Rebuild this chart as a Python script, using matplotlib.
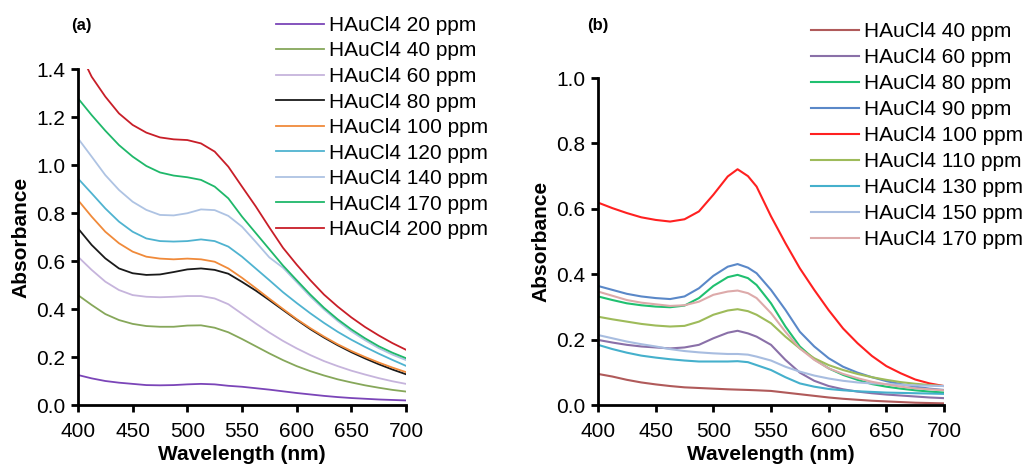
import numpy as np
import matplotlib
matplotlib.use("Agg")
import matplotlib.pyplot as plt

plt.rcParams['font.family'] = ['Liberation Sans', 'DejaVu Sans']

# ---------------- panel (a) data ----------------
wl_a = [400, 412.5, 425, 437.5, 450, 462.5, 475, 487.5, 500, 512.5, 525, 537.5, 550,
        562.5, 575, 587.5, 600, 612.5, 625, 637.5, 650, 662.5, 675, 687.5, 700]

labels_a = ["HAuCl4 20 ppm", "HAuCl4 40 ppm", "HAuCl4 60 ppm", "HAuCl4 80 ppm",
            "HAuCl4 100 ppm", "HAuCl4 120 ppm", "HAuCl4 140 ppm",
            "HAuCl4 170 ppm", "HAuCl4 200 ppm"]

a_20 = [0.125, 0.111, 0.100, 0.093, 0.088, 0.083, 0.082, 0.083, 0.086, 0.088, 0.086, 0.080, 0.076,
        0.070, 0.064, 0.057, 0.050, 0.044, 0.038, 0.033, 0.029, 0.026, 0.023, 0.021, 0.019]
a_40 = [0.458, 0.417, 0.379, 0.354, 0.338, 0.329, 0.326, 0.326, 0.331, 0.332, 0.322, 0.303, 0.275,
        0.245, 0.215, 0.187, 0.162, 0.141, 0.123, 0.107, 0.094, 0.082, 0.072, 0.063, 0.056]
a_60 = [0.618, 0.563, 0.514, 0.479, 0.458, 0.451, 0.449, 0.451, 0.454, 0.454, 0.444, 0.420, 0.380,
        0.340, 0.302, 0.267, 0.236, 0.208, 0.183, 0.162, 0.143, 0.127, 0.112, 0.099, 0.088]
a_80 = [0.736, 0.667, 0.611, 0.569, 0.549, 0.542, 0.544, 0.554, 0.565, 0.569, 0.563, 0.547, 0.513,
        0.477, 0.437, 0.396, 0.355, 0.316, 0.281, 0.249, 0.220, 0.194, 0.170, 0.148, 0.128]
a_100 = [0.854, 0.785, 0.722, 0.674, 0.639, 0.618, 0.610, 0.607, 0.610, 0.607, 0.597, 0.569, 0.530,
         0.487, 0.443, 0.400, 0.358, 0.320, 0.285, 0.253, 0.225, 0.200, 0.177, 0.156, 0.137]
a_120 = [0.944, 0.882, 0.819, 0.764, 0.722, 0.694, 0.683, 0.681, 0.683, 0.690, 0.683, 0.660, 0.618,
         0.569, 0.520, 0.470, 0.425, 0.382, 0.342, 0.305, 0.272, 0.242, 0.214, 0.188, 0.163]
a_140 = [1.111, 1.035, 0.958, 0.896, 0.847, 0.813, 0.792, 0.790, 0.799, 0.815, 0.812, 0.788, 0.743,
         0.680, 0.615, 0.572, 0.512, 0.452, 0.398, 0.350, 0.307, 0.270, 0.237, 0.210, 0.187]
a_170 = [1.278, 1.208, 1.143, 1.083, 1.035, 0.996, 0.969, 0.956, 0.949, 0.938, 0.910, 0.861, 0.785,
         0.717, 0.649, 0.581, 0.520, 0.460, 0.405, 0.357, 0.315, 0.278, 0.245, 0.218, 0.195]
# the 200 ppm curve starts a bit after 400 nm
wl_a200 = [408] + wl_a[1:]
a_200 = [1.410, 1.368, 1.285, 1.215, 1.167, 1.135, 1.115, 1.107, 1.104, 1.090, 1.056, 0.993, 0.910,
         0.828, 0.740, 0.655, 0.585, 0.520, 0.460, 0.410, 0.365, 0.325, 0.290, 0.258, 0.230]

colors_a = ["#7b45b8", "#86a75a", "#c6b4dc", "#1a1a1a", "#f08a3a",
            "#4fb3d0", "#aec3e3", "#1fb86a", "#c81e28"]

# ---------------- panel (b) data ----------------
wl_b = [400, 412.5, 425, 437.5, 450, 462.5, 475, 487.5, 500, 512.5, 521, 530, 537.5, 550,
        562.5, 575, 587.5, 600, 612.5, 625, 637.5, 650, 662.5, 675, 687.5, 700]

labels_b = ["HAuCl4 40 ppm", "HAuCl4 60 ppm", "HAuCl4 80 ppm", "HAuCl4 90 ppm",
            "HAuCl4 100 ppm", "HAuCl4 110 ppm", "HAuCl4 130 ppm",
            "HAuCl4 150 ppm", "HAuCl4 170 ppm"]

b_40 = [0.095, 0.087, 0.077, 0.069, 0.063, 0.058, 0.054, 0.052, 0.050, 0.048, 0.047, 0.046, 0.045, 0.043,
        0.038, 0.033, 0.028, 0.023, 0.019, 0.016, 0.013, 0.011, 0.009, 0.007, 0.006, 0.005]
b_60 = [0.199, 0.191, 0.184, 0.179, 0.176, 0.173, 0.176, 0.184, 0.204, 0.221, 0.227, 0.219, 0.209, 0.184,
        0.138, 0.099, 0.074, 0.058, 0.048, 0.041, 0.036, 0.032, 0.029, 0.026, 0.023, 0.021]
b_80 = [0.332, 0.321, 0.311, 0.305, 0.301, 0.299, 0.304, 0.327, 0.364, 0.391, 0.398, 0.388, 0.367, 0.311,
        0.240, 0.179, 0.140, 0.112, 0.092, 0.077, 0.064, 0.056, 0.050, 0.045, 0.041, 0.038]
b_90 = [0.364, 0.352, 0.340, 0.332, 0.327, 0.324, 0.332, 0.357, 0.395, 0.423, 0.431, 0.420, 0.403, 0.352,
        0.291, 0.224, 0.179, 0.143, 0.117, 0.099, 0.085, 0.073, 0.064, 0.056, 0.050, 0.046]
b_100 = [0.619, 0.602, 0.587, 0.574, 0.566, 0.561, 0.568, 0.592, 0.643, 0.699, 0.721, 0.700, 0.668, 0.577,
         0.495, 0.418, 0.352, 0.290, 0.234, 0.189, 0.150, 0.119, 0.097, 0.078, 0.066, 0.058]
b_110 = [0.270, 0.262, 0.255, 0.248, 0.243, 0.240, 0.242, 0.255, 0.276, 0.289, 0.293, 0.287, 0.276, 0.250,
         0.209, 0.173, 0.143, 0.122, 0.107, 0.095, 0.085, 0.077, 0.070, 0.065, 0.061, 0.058]
b_130 = [0.184, 0.171, 0.160, 0.151, 0.145, 0.140, 0.136, 0.133, 0.133, 0.133, 0.134, 0.131, 0.122, 0.107,
         0.085, 0.066, 0.056, 0.049, 0.045, 0.042, 0.040, 0.038, 0.037, 0.036, 0.035, 0.034]
b_150 = [0.214, 0.204, 0.194, 0.186, 0.179, 0.171, 0.165, 0.161, 0.158, 0.156, 0.156, 0.154, 0.148, 0.136,
         0.117, 0.102, 0.090, 0.081, 0.074, 0.069, 0.066, 0.064, 0.062, 0.060, 0.059, 0.058]
b_170 = [0.347, 0.334, 0.321, 0.313, 0.308, 0.303, 0.305, 0.316, 0.337, 0.347, 0.350, 0.342, 0.327, 0.281,
         0.224, 0.173, 0.138, 0.112, 0.095, 0.082, 0.071, 0.063, 0.056, 0.051, 0.048, 0.045]

colors_b = ["#b05a5a", "#8a70a8", "#20c070", "#5a88c8", "#ff2020",
            "#9ebb5a", "#45b0cc", "#a8bde0", "#ddaaaa"]


def style_axes(ax, ymax):
    ax.set_xlim(400, 700)
    ax.set_ylim(0, ymax)
    ax.set_xticks(np.arange(400, 701, 50))
    ax.set_yticks(np.arange(0, ymax + 0.01, 0.2))
    ax.yaxis.set_major_formatter(matplotlib.ticker.FormatStrFormatter('%.1f'))
    ax.spines['top'].set_visible(False)
    ax.spines['right'].set_visible(False)
    ax.spines['left'].set_linewidth(2)
    ax.spines['bottom'].set_linewidth(2)
    ax.tick_params(direction='out', length=5, width=2, labelsize=15,
                   colors='black', pad=4)
    ax.tick_params(axis='x', pad=7)
    ax.set_xlabel("Wavelength (nm)", fontsize=15, fontweight='bold', labelpad=3)
    ax.set_ylabel("Absorbance", fontsize=15, fontweight='bold', labelpad=4)


fig = plt.figure(figsize=(10.3, 4.66), dpi=100)

# (a)
ax1 = fig.add_axes([0.0757, 0.1309, 0.3185, 0.7210])
series_a = [a_20, a_40, a_60, a_80, a_100, a_120, a_140, a_170]
for ys, c, lab in zip(series_a, colors_a[:-1], labels_a[:-1]):
    ax1.plot(wl_a, ys, color=c, lw=1.3, label=lab)
ax1.plot(wl_a200, a_200, color=colors_a[-1], lw=1.3, label=labels_a[-1])
style_axes(ax1, 1.4)
ax1.legend(loc='upper left', bbox_to_anchor=(0.268, 0.966), bbox_transform=fig.transFigure,
           frameon=False, fontsize=15, handlelength=2.3, handletextpad=0.25,
           labelspacing=0.315, borderpad=0, borderaxespad=0)
fig.text(0.0786, 0.946, "(a)", fontsize=12, fontweight='bold', ha='center', va='center')

# (b)
ax2 = fig.add_axes([0.5806, 0.1309, 0.3359, 0.7017])
series_b = [b_40, b_60, b_80, b_90, b_100, b_110, b_130, b_150, b_170]
for ys, c, lab in zip(series_b, colors_b, labels_b):
    ax2.plot(wl_b, ys, color=c, lw=1.5, label=lab)
style_axes(ax2, 1.0)
ax2.legend(loc='upper left', bbox_to_anchor=(0.787, 0.952), bbox_transform=fig.transFigure,
           frameon=False, fontsize=15, handlelength=2.3, handletextpad=0.25,
           labelspacing=0.335, borderpad=0, borderaxespad=0)
fig.text(0.5806, 0.946, "(b)", fontsize=12, fontweight='bold', ha='center', va='center')

fig.savefig("out.png", dpi=100)
